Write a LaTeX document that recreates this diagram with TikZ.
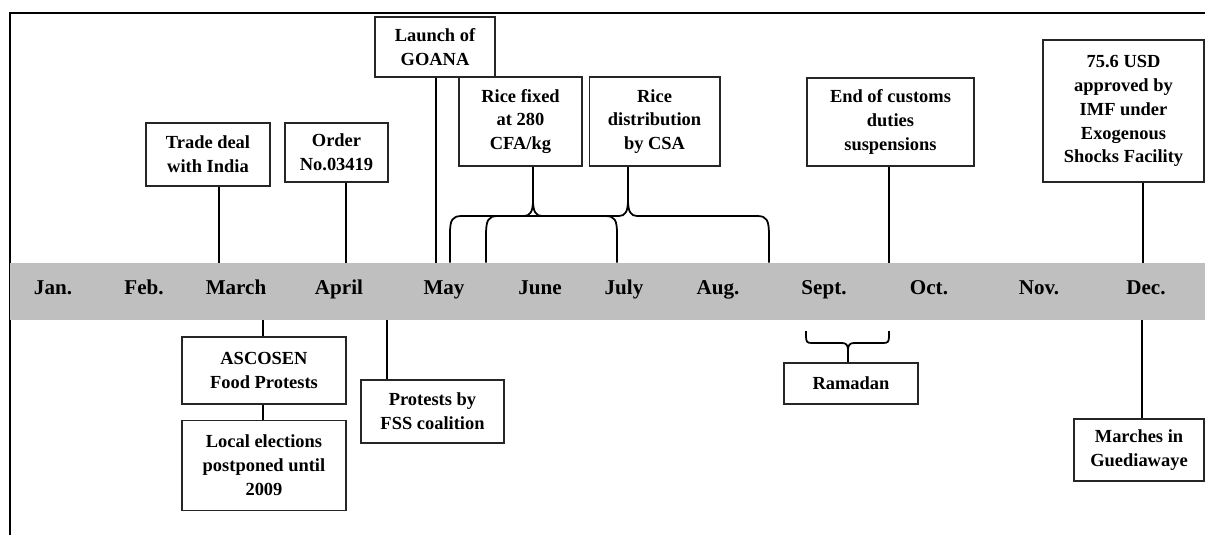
\documentclass[tikz,border=0pt]{standalone}
\usepackage{fontspec}
\setmainfont{Liberation Serif}
\usepackage{tikz}
\usetikzlibrary{positioning}
\definecolor{bargray}{RGB}{191,191,191}

\begin{document}
\begin{tikzpicture}[x=0.02cm, y=-0.02cm, every node/.style={font=\bfseries\fontsize{10.5}{13.6}\selectfont}]
      \tikzstyle{eventbox}=[draw=black!85, line width=0.6pt, inner sep=0pt, align=center]
      \tikzstyle{month}=[anchor=base, font=\bfseries\fontsize{12}{14}\selectfont]
      \tikzstyle{link}=[line width=1pt]
      \useasboundingbox (0,0) rectangle (1205,535);
      \draw[line width=1pt] (10,535) -- (10,13) -- (1205,13);

      \node[fill=bargray, minimum width=23.9cm, minimum height=1.132cm, inner sep=0pt, anchor=north west] (bar) at (10,262.7) {};
      \foreach \m/\x [count=\i] in {Jan./53, Feb./144, March/236, April/339, May/444, June/540, July/624, Aug./718, Sept./824, Oct./929, Nov./1039, Dec./1146}
        \node[month] (m\i) at (\x,294) {\m};

      \node[eventbox, minimum width=2.48cm, minimum height=1.26cm] (trade) at (208,154.5) {Trade deal\\with India};
      \node[eventbox, minimum width=2.06cm, minimum height=1.18cm] (order) at (336.5,152.5) {Order\\No.03419};
      \node[eventbox, minimum width=2.4cm, minimum height=1.2cm] (launch) at (435,47) {Launch of\\GOANA};
      \node[eventbox, minimum width=2.46cm, minimum height=1.78cm] (ricefix) at (520.5,121.5) {Rice fixed\\at 280\\CFA/kg};
      \node[eventbox, minimum width=2.62cm, minimum height=1.78cm, right=0.12cm of ricefix] (ricedist) {Rice\\distribution\\by CSA};
      \node[eventbox, minimum width=3.34cm, minimum height=1.76cm] (customs) at (890.5,122) {End of customs\\duties\\suspensions};
      \node[eventbox, minimum width=3.22cm, minimum height=2.84cm] (imf) at (1123.5,111) {75.6 USD\\approved by\\IMF under\\Exogenous\\Shocks Facility};
      \node[eventbox, minimum width=3.28cm, minimum height=1.34cm] (ascosen) at (264,370.5) {ASCOSEN\\Food Protests};
      \node[eventbox, minimum width=3.28cm, minimum height=1.8cm, below=0.3cm of ascosen] (elections) {Local elections\\postponed until\\2009};
      \node[eventbox, minimum width=2.86cm, minimum height=1.26cm] (fss) at (432.5,411.5) {Protests by\\FSS coalition};
      \node[eventbox, minimum width=2.68cm, minimum height=0.82cm] (ramadan) at (851,383.5) {Ramadan};
      \node[eventbox, minimum width=2.6cm, minimum height=1.24cm] (marches) at (1139,450) {Marches in\\Guediawaye};

      \coordinate (xTrade) at (219,0);
      \coordinate (xOrder) at (346,0);
      \coordinate (xLaunch) at (436,0);
      \coordinate (xCustoms) at (889,0);
      \coordinate (xImf) at (1143,0);
      \coordinate (xAscosen) at (263,0);
      \coordinate (xFss) at (387,0);
      \coordinate (xMarches) at (1142,0);

      \draw[link] (trade.south -| xTrade) -- (bar.north -| xTrade);
      \draw[link] (order.south -| xOrder) -- (bar.north -| xOrder);
      \draw[link] (launch.south -| xLaunch) -- (bar.north -| xLaunch);
      \draw[link] (customs.south -| xCustoms) -- (bar.north -| xCustoms);
      \draw[link] (imf.south -| xImf) -- (bar.north -| xImf);
      \draw[link] (bar.south -| xAscosen) -- (ascosen.north -| xAscosen);
      \draw[link] (ascosen.south -| xAscosen) -- (elections.north -| xAscosen);
      \draw[link] (bar.south -| xFss) -- (fss.north -| xFss);
      \draw[link] (bar.south -| xMarches) -- (marches.north -| xMarches);

      \coordinate (tipFix) at (533,200);
      \coordinate (tipDist) at (628,200);
      \coordinate (tipRam) at (848,350);
      \draw[link] (450,262.7) -- (450,234) .. controls (450,220) and (452,216) .. (462,216) -- (524,216)
        .. controls (530,216) and (533,212) .. (tipFix) .. controls (533,212) and (536,216) .. (542,216) -- (605,216)
        .. controls (615,216) and (617,220) .. (617,234) -- (617,262.7);
      \draw[link] (tipFix) -- (tipFix |- ricefix.south);
      \draw[link] (486,262.7) -- (486,236) .. controls (486,220) and (488,216) .. (498,216) -- (619,216)
        .. controls (625,216) and (628,212) .. (tipDist) .. controls (628,212) and (631,216) .. (637,216) -- (757,216)
        .. controls (767,216) and (769,220) .. (769,236) -- (769,262.7);
      \draw[link] (tipDist) -- (tipDist |- ricedist.south);
      \draw[link] (806,331) -- (806,336) .. controls (806,342) and (807,343) .. (812,343) -- (842,343)
        .. controls (846,343) and (848,345) .. (tipRam) .. controls (848,345) and (850,343) .. (854,343) -- (883,343)
        .. controls (888,343) and (889,342) .. (889,336) -- (889,331);
      \draw[link] (tipRam) -- (ramadan.north -| tipRam);
    \end{tikzpicture}
\end{document}
